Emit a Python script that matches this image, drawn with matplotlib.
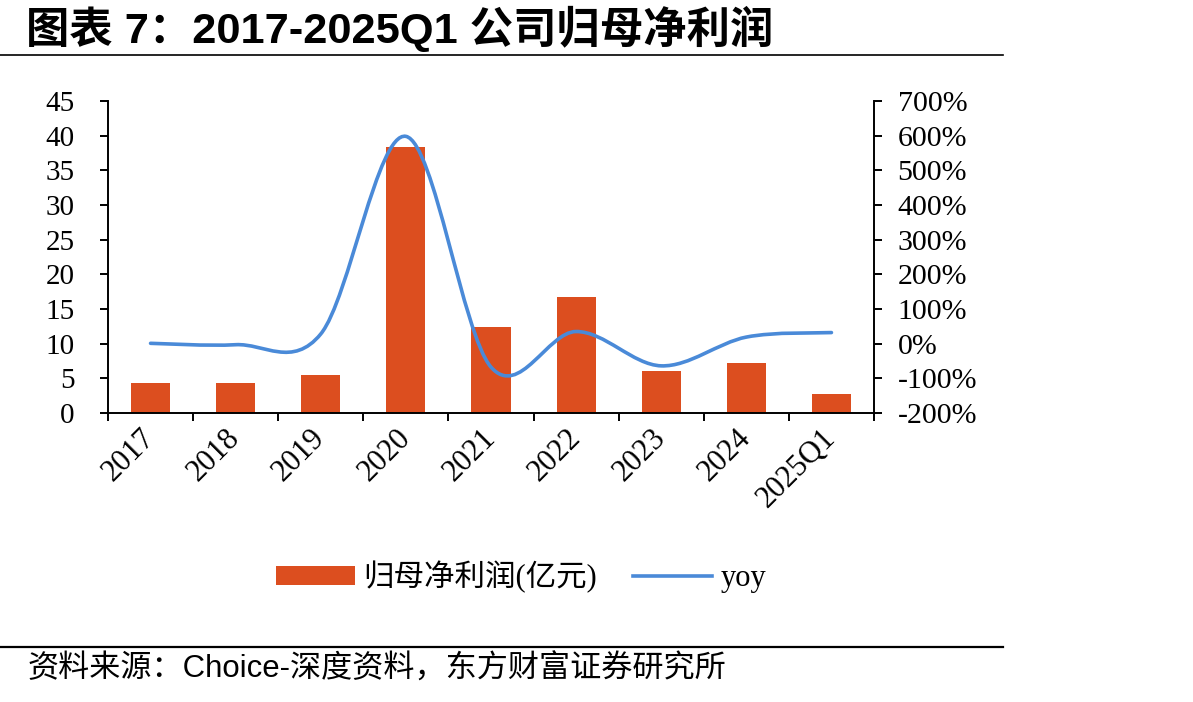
import numpy as np
import matplotlib
matplotlib.use('Agg')
import matplotlib.pyplot as plt
import matplotlib.transforms as mtrans
from matplotlib.path import Path
from matplotlib.patches import PathPatch, Patch
from matplotlib.lines import Line2D

# data
years = ['2017', '2018', '2019', '2020', '2021', '2022', '2023', '2024', '2025Q1']
profit = [4.3, 4.3, 5.5, 38.4, 12.45, 16.8, 6.1, 7.26, 2.7]   # 亿元
yoy = [1, -3, 28, 598, -67.6, 35, -64, 19, 32]                 # %

bar_c = '#DC4E1F'
line_c = '#4A8AD8'
serif = ['Liberation Serif', 'Noto Sans CJK SC']
sans = ['Liberation Sans', 'Noto Sans CJK SC']

W, H = 1193, 702
fig = plt.figure(figsize=(W / 100, H / 100), dpi=100)

ax = fig.add_axes([108 / W, 1 - 413 / H, (874 - 108) / W, (413 - 101) / H])
x = np.arange(len(years))
ax.bar(x, profit, width=0.46, color=bar_c, zorder=2)
ax.set_xlim(-0.5, len(years) - 0.5)
ax.set_ylim(0, 45)
ax.set_yticks(range(0, 46, 5))
ax.set_yticklabels([str(v) for v in range(0, 46, 5)], family=serif, fontsize=21)

# category boundaries get the tick marks, centres get the labels
ax.set_xticks(np.arange(-0.5, len(years), 1.0))
ax.set_xticklabels([])
ax.set_xticks(x, minor=True)
ax.set_xticklabels(years, minor=True, rotation=45, ha='right', va='center',
                   rotation_mode='anchor', family=serif, fontsize=22)
shift = mtrans.ScaledTranslation(6 / 100, 0, fig.dpi_scale_trans)
for lbl in ax.get_xticklabels(minor=True):
    lbl.set_transform(lbl.get_transform() + shift)
ax.tick_params(axis='x', which='minor', length=0, pad=15)
ax.tick_params(axis='x', which='major', length=6, width=1.4, direction='out')
ax.tick_params(axis='y', length=6, width=1.4, direction='out', pad=18)
for s in ['top', 'right']:
    ax.spines[s].set_visible(False)
for s in ['left', 'bottom']:
    ax.spines[s].set_linewidth(1.4)

ax2 = ax.twinx()
ax2.set_ylim(-200, 700)
ax2.set_yticks(range(-200, 701, 100))
ax2.set_yticklabels([f'{v}%' for v in range(-200, 701, 100)], family=serif, fontsize=21.5)
ax2.tick_params(axis='y', length=6, width=1.4, direction='out', pad=11)
for s in ['top', 'left', 'bottom']:
    ax2.spines[s].set_visible(False)
ax2.spines['right'].set_linewidth(1.4)

# smoothed yoy line (Catmull-Rom style bezier like Excel)
pts = np.column_stack([x, yoy]).astype(float)
n = len(pts)
verts = [pts[0]]
codes = [Path.MOVETO]
for i in range(n - 1):
    p0 = pts[i - 1] if i > 0 else pts[i]
    p1 = pts[i]
    p2 = pts[i + 1]
    p3 = pts[i + 2] if i + 2 < n else pts[i + 1]
    verts += [p1 + (p2 - p0) / 6, p2 - (p3 - p1) / 6, p2]
    codes += [Path.CURVE4] * 3
ax2.add_patch(PathPatch(Path(verts, codes), fill=False, edgecolor=line_c,
                        lw=2.6, capstyle='round', zorder=3))

# legend
handles = [Patch(facecolor=bar_c), Line2D([], [], color=line_c, lw=2.6)]
fig.legend(handles, ['归母净利润(亿元)', 'yoy'], loc='center',
           bbox_to_anchor=(521 / W, 1 - 577 / H), ncol=2, frameon=False,
           handlelength=2.6, handleheight=0.6, columnspacing=1.15,
           handletextpad=0.28, prop={'family': serif, 'size': 22})

# title, rules and source
fig.text(26 / W, 1 - 29 / H, '图表 7：2017-2025Q1 公司归母净利润', family=sans,
         fontsize=31.2, fontweight='bold', va='center', ha='left')
fig.add_artist(Line2D([0, 1003 / W], [1 - 55 / H] * 2, color='black', lw=1.2))
fig.add_artist(Line2D([0, 1003 / W], [1 - 647 / H] * 2, color='black', lw=1.6))
fig.text(28 / W, 1 - 670 / H, '资料来源：Choice-深度资料，东方财富证券研究所', family=sans,
         fontsize=22.4, va='center', ha='left')

fig.savefig('out.png', dpi=100)
